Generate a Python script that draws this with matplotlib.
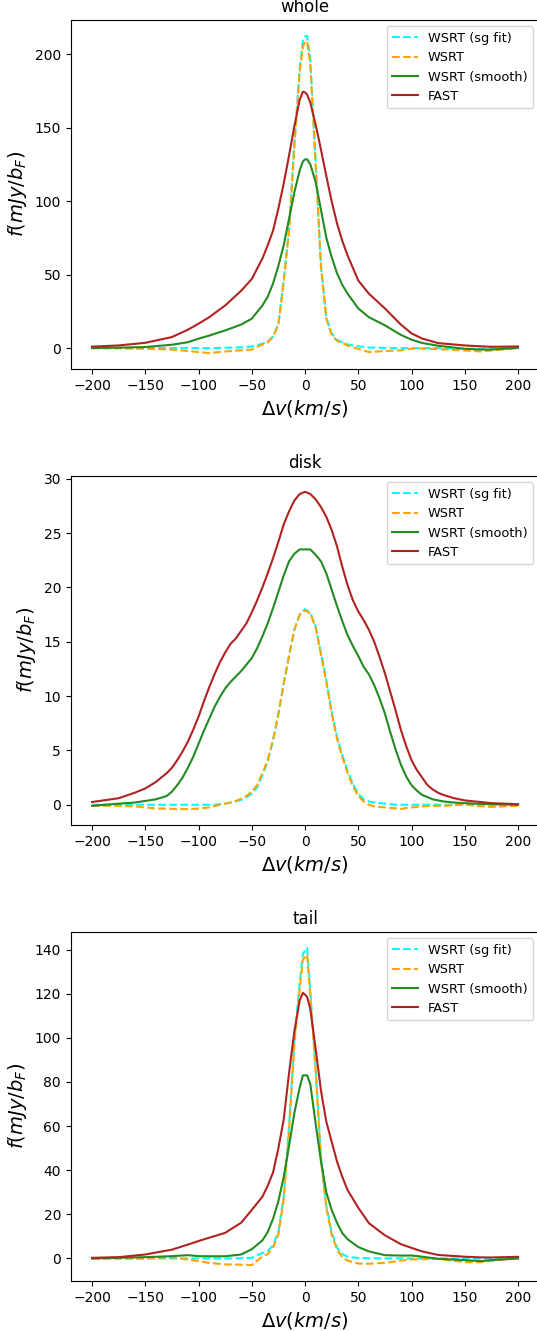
import numpy as np
import matplotlib
matplotlib.use('Agg')
import matplotlib.pyplot as plt

# velocity grid (km/s) for the whole / tail panels
v = [-200, -175, -150, -125, -110, -100, -90, -75, -60, -50,
     -40, -35, -30, -25, -20, -15, -10, -5, -2, 0,
     2, 5, 10, 15, 20, 25, 30, 35, 40, 50,
     60, 75, 90, 100, 110, 125, 150, 165, 175, 200]

# finer velocity grid for the disk panel
v_disk = [-200, -175, -160, -150, -140, -130, -125, -120, -115, -110,
          -105, -100, -95, -90, -85, -80, -75, -70, -65, -60,
          -55, -50, -45, -40, -35, -30, -25, -20, -15, -10,
          -5, 0, 5, 10, 15, 20, 25, 30, 35, 40,
          45, 50, 55, 60, 65, 70, 75, 80, 85, 90,
          95, 100, 105, 110, 115, 120, 125, 130, 140, 150,
          160, 175, 200]

# --- whole ---
whole_sg = [0, 0, 0, 0, 0, 0, 0, 0.2, 0.5, 1,
            3, 4.5, 8, 16.5, 46, 81, 139, 190, 209, 212,
            212.5, 196, 127, 56, 21, 10, 5.5, 4, 2.5, 1.2,
            0.4, 0.1, 0, 0, 0, 0, -0.3, -0.5, -0.3, 0]
whole_wsrt = [0, -0.2, -0.4, -1, -2, -2.7, -3.4, -2.3, -1.5, -1,
              2.5, 4, 7.5, 16, 45, 80, 137, 188, 205, 208.7,
              208.5, 193, 125, 55, 20, 9, 5, 3.5, 1.8, -0.5,
              -2.7, -2, -1.5, -0.5, -0.3, -0.7, -1.6, -2.3, -1.6, 0]
whole_smooth = [0, 0.3, 0.7, 2.3, 4, 6.4, 8.5, 12, 16, 20,
                29, 35, 44, 56, 70, 88, 106, 121, 127, 128.4,
                128.5, 125, 113, 94, 75, 62, 51, 43, 37, 27,
                21, 15.5, 9, 5.7, 3.5, 1.6, -0.5, -1, -1, 0.2]
whole_fast = [1.0, 1.8, 3.6, 7.5, 12.5, 16.6, 21, 29, 39, 47,
              61, 70, 80, 95, 112, 131, 151, 169, 174.5, 174,
              172.5, 167, 152, 135, 117, 100, 85, 73, 63, 46,
              37, 27, 16, 10, 6.5, 3.4, 1.8, 1.2, 0.9, 1.1]

# --- disk ---
disk_sg = [0, 0, 0, 0, 0, 0, 0, 0, 0, 0,
           0, 0, 0, 0, 0, 0.05, 0.1, 0.2, 0.3, 0.45,
           0.7, 1.0, 1.6, 2.7, 4.0, 5.9, 8.3, 11.1, 13.7, 16.1,
           17.5, 18.0, 17.7, 16.4, 14.0, 11.5, 8.6, 6.3, 4.6, 3.1,
           1.9, 1.0, 0.5, 0.3, 0.2, 0.15, 0.1, 0.05, 0, 0,
           0, 0, 0, 0, 0, 0, 0, 0, 0, 0,
           0, 0, 0]
disk_wsrt = [-0.1, -0.1, -0.15, -0.25, -0.35, -0.35, -0.38, -0.4, -0.4, -0.4,
             -0.38, -0.35, -0.3, -0.25, -0.12, 0, 0.1, 0.2, 0.35, 0.55,
             0.8, 1.2, 1.8, 2.9, 4.1, 6.0, 8.4, 11.2, 13.7, 16.1,
             17.5, 17.9, 17.6, 16.3, 13.8, 11.3, 8.4, 6.1, 4.4, 2.9,
             1.7, 0.8, 0.3, 0, -0.15, -0.2, -0.25, -0.3, -0.33, -0.4,
             -0.3, -0.25, -0.2, -0.15, -0.12, -0.1, -0.1, -0.1, -0.05, 0.05,
             -0.1, -0.2, -0.1]
disk_smooth = [-0.1, 0.1, 0.2, 0.35, 0.5, 0.8, 1.2, 1.8, 2.5, 3.4,
               4.4, 5.6, 6.8, 7.9, 9.0, 9.9, 10.7, 11.3, 11.8, 12.3,
               12.9, 13.5, 14.4, 15.5, 16.7, 18.1, 19.6, 21.1, 22.4, 23.1,
               23.5, 23.5, 23.5, 23.0, 22.4, 21.3, 19.8, 18.3, 16.9, 15.6,
               14.6, 13.7, 12.7, 12.0, 11.0, 9.8, 8.4, 6.7, 5.1, 3.7,
               2.6, 1.8, 1.3, 0.9, 0.7, 0.5, 0.4, 0.3, 0.2, 0.15,
               0.1, 0.05, 0]
disk_fast = [0.25, 0.6, 1.1, 1.5, 2.1, 2.9, 3.4, 4.1, 4.9, 5.8,
             6.9, 8.1, 9.5, 10.8, 12.0, 13.1, 14.0, 14.8, 15.3, 16.0,
             16.7, 17.7, 18.8, 20.0, 21.3, 22.7, 24.2, 25.8, 27.0, 28.0,
             28.6, 28.8, 28.6, 28.1, 27.4, 26.5, 25.3, 23.8, 21.9, 20.2,
             18.8, 17.8, 17.0, 16.1, 15.0, 13.6, 12.1, 10.4, 8.7, 6.9,
             5.4, 4.1, 3.2, 2.5, 1.8, 1.4, 1.1, 0.9, 0.6, 0.4,
             0.3, 0.15, 0.05]

# --- tail ---
tail_sg = [0, 0, 0, 0, 0, 0, 0, 0, 0.1, 0.3,
           2.5, 3.5, 6, 12, 28, 60, 99, 125, 138, 139.5,
           140.8, 121, 86, 46, 24, 12, 5, 2, 0.8, 0.2,
           0.1, 0, 0, 0, 0, 0, 0, 0, 0, 0]
tail_wsrt = [0, 0, 0, 0.6, -0.45, -1.2, -2, -2.7, -2.8, -3,
             1, 2, 5, 11, 27, 58, 97, 122, 135.5, 136.5,
             137.8, 119, 85, 45, 23, 11, 4, 0.5, -1, -2.3,
             -2.4, -2, -1, -0.45, -0.3, -0.2, -1.7, -1.7, -1, 0]
tail_smooth = [0, 0.3, 0.6, 1.05, 1.5, 1.05, 1, 1, 1.8, 4.2,
               8.2, 12, 18, 26, 37, 51, 66, 77.5, 83, 83,
               83, 79, 61, 44, 30, 22, 16.2, 11.5, 8.7, 5.2,
               3.2, 1.5, 1.3, 1.35, 0.8, -0.15, -0.75, -1.2, -0.75, 0]
tail_fast = [0.3, 0.6, 1.8, 4, 6.3, 7.9, 9.4, 11.6, 16.2, 22,
             28, 33, 39, 50, 63, 84, 103, 117, 120.4, 119.6,
             118.5, 113, 95, 76, 62, 53, 44, 37, 31, 23,
             16, 10.5, 6.5, 4.8, 3.2, 1.6, 0.8, 0.5, 0.45, 0.75]

panels = [
    ('whole', v, whole_sg, whole_wsrt, whole_smooth, whole_fast),
    ('disk', v_disk, disk_sg, disk_wsrt, disk_smooth, disk_fast),
    ('tail', v, tail_sg, tail_wsrt, tail_smooth, tail_fast),
]

fig = plt.figure(figsize=(5.37, 13.31), dpi=100)
bottoms = [0.7228, 0.3802, 0.0376]

for (name, x, sg, wsrt, smooth, fast), b in zip(panels, bottoms):
    ax = fig.add_axes([0.1317, b, 0.8726, 0.2622])
    ax.plot(x, sg, '--', color='cyan', lw=1.5, label='WSRT (sg fit)')
    ax.plot(x, wsrt, '--', color='orange', lw=1.5, label='WSRT')
    ax.plot(x, smooth, '-', color='forestgreen', lw=1.5, label='WSRT (smooth)')
    ax.plot(x, fast, '-', color='firebrick', lw=1.5, label='FAST')
    ax.set_xlim(-220, 220)
    ax.set_xticks([-200, -150, -100, -50, 0, 50, 100, 150, 200])
    ax.set_title(name, fontsize=12)
    ax.set_xlabel(r'$\Delta v(km/s)$', fontsize=14)
    ax.set_ylabel(r'$f(mJy/b_F)$', fontsize=14)
    ax.legend(loc='upper right', fontsize=9.3)

fig.savefig('out.png', dpi=100)
